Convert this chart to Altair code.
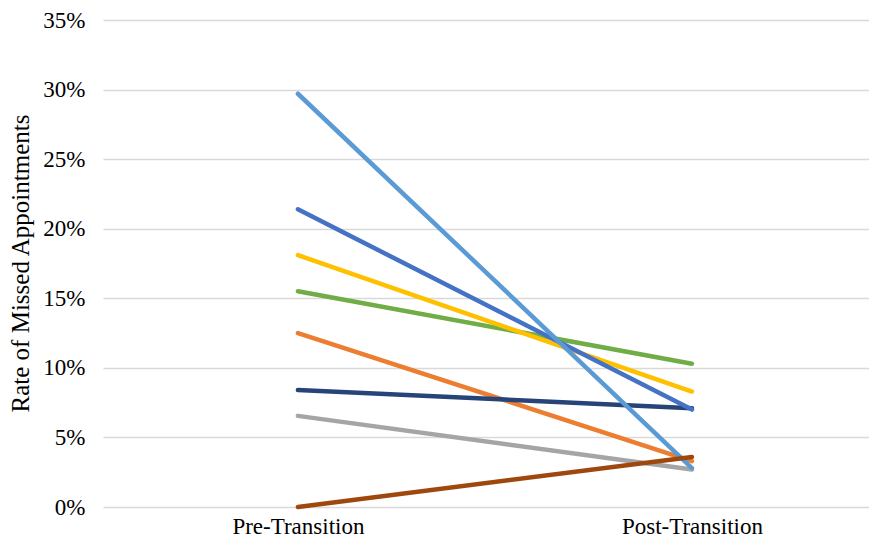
import altair as alt
import pandas as pd

categories = ["Pre-Transition", "Post-Transition"]
series = ["S1", "S2", "S3", "S4", "S5", "S6", "S7", "S8"]
colors = ["#A5A5A5", "#ED7D31", "#264478", "#70AD47", "#FFC000", "#4472C4", "#5B9BD5", "#9E480E"]
pre_values = [0.0655, 0.125, 0.084, 0.155, 0.181, 0.214, 0.297, 0.000]
post_values = [0.027, 0.033, 0.071, 0.103, 0.083, 0.070, 0.028, 0.036]

rows = []
for s, a, b in zip(series, pre_values, post_values):
    rows.append({"series": s, "phase": categories[0], "rate": a})
    rows.append({"series": s, "phase": categories[1], "rate": b})
df = pd.DataFrame(rows)

FONT = "Liberation Serif"

chart = alt.Chart(df).mark_line(strokeWidth=4.5, strokeCap="round").encode(
    x=alt.X("phase:N", sort=categories,
            scale=alt.Scale(type="point", padding=0.472, align=0.524),
            axis=alt.Axis(title=None, labelAngle=0, ticks=False, domain=False,
                          labelFont=FONT, labelFontSize=23, labelColor="#000000",
                          labelPadding=8)),
    y=alt.Y("rate:Q", scale=alt.Scale(domain=[0, 0.35], nice=False),
            axis=alt.Axis(title="Rate of Missed Appointments", format=".0%",
                          values=[0, 0.05, 0.1, 0.15, 0.2, 0.25, 0.3, 0.35],
                          ticks=False, domain=False, grid=True,
                          gridColor="#D9D9D9", gridWidth=1.5,
                          labelFont=FONT, labelFontSize=23, labelColor="#000000",
                          labelPadding=18,
                          titleFont=FONT, titleFontSize=25, titleFontWeight="normal",
                          titleColor="#000000", titleX=-70, titleY=243)),
    color=alt.Color("series:N", scale=alt.Scale(domain=series, range=colors), legend=None),
).properties(
    width=766,
    height=487,
    autosize=alt.AutoSizeParams(type="none"),
    padding={"left": 95, "top": 12, "right": 0, "bottom": 30},
).configure_view(stroke=None)

chart.save("out.html", embed_options={"renderer": "svg", "actions": False})
